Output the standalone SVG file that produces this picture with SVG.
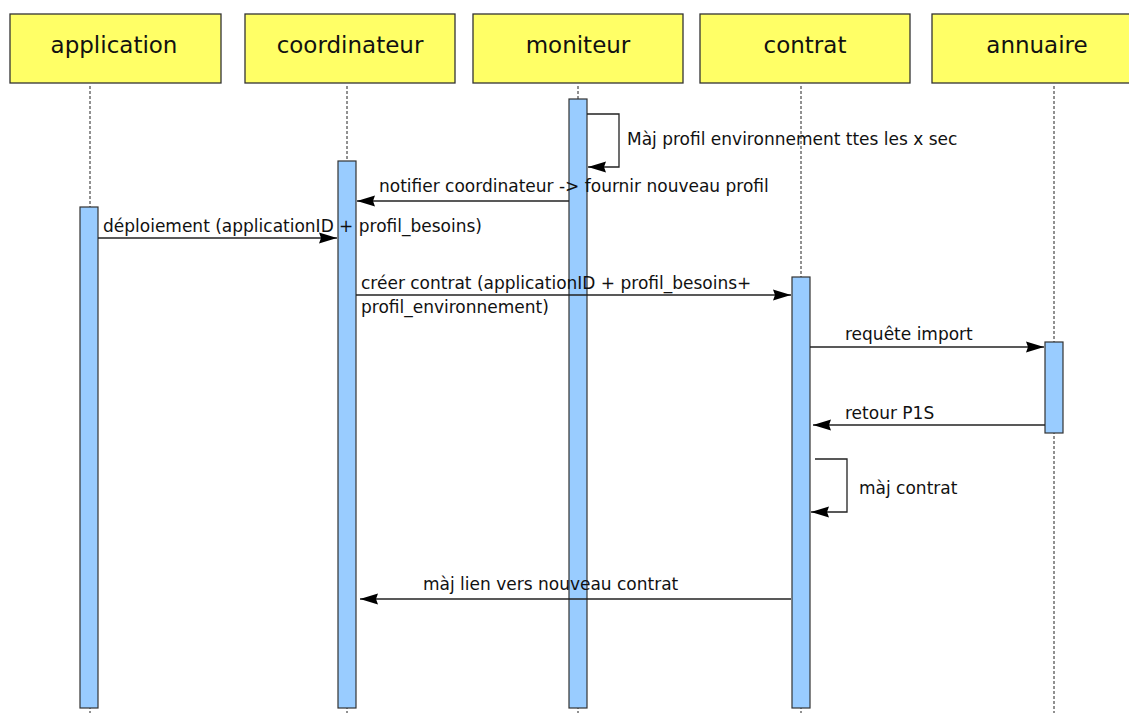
<svg xmlns="http://www.w3.org/2000/svg" width="1129" height="713" viewBox="0 0 1129 713">
<style>
.hdr{fill:#ffff66;stroke:#333;stroke-width:1.3}
.htxt{font-family:"DejaVu Sans",sans-serif;font-size:23px;fill:#111;text-anchor:middle}
.life{stroke:#222;stroke-width:1;stroke-dasharray:3 2;fill:none}
.bar{fill:#99ccff;stroke:#333;stroke-width:1.2}
.msg{stroke:#222;stroke-width:1.3;fill:none}
.mtxt{font-family:"DejaVu Sans",sans-serif;font-size:17px;fill:#111}
</style>
<defs>
<marker id="ah" markerUnits="userSpaceOnUse" markerWidth="20" markerHeight="12" refX="18" refY="6" orient="auto">
<path d="M0,0.5 L18,6 L0,11.5 L2,6 Z" fill="#000"/>
</marker>
</defs>
<g id="lifelines">
<line class="life" x1="90" y1="86" x2="90" y2="713"/>
<line class="life" x1="347" y1="86" x2="347" y2="713"/>
<line class="life" x1="578" y1="86" x2="578" y2="713"/>
<line class="life" x1="801" y1="86" x2="801" y2="713"/>
<line class="life" x1="1054" y1="86" x2="1054" y2="713"/>
</g>
<g id="application"><rect class="hdr" x="10" y="14" width="211" height="69"/><text class="htxt" x="114" y="53">application</text><rect class="bar" x="80" y="207" width="18" height="501"/></g>
<g id="coordinateur"><rect class="hdr" x="245" y="14" width="210" height="69"/><text class="htxt" x="350" y="53">coordinateur</text><rect class="bar" x="338" y="161" width="18" height="547"/></g>
<g id="moniteur"><rect class="hdr" x="473" y="14" width="210" height="69"/><text class="htxt" x="578" y="53">moniteur</text><rect class="bar" x="569" y="99" width="18" height="609"/></g>
<g id="contrat"><rect class="hdr" x="700" y="14" width="210" height="69"/><text class="htxt" x="805" y="53">contrat</text><rect class="bar" x="792" y="277" width="18" height="431"/></g>
<g id="annuaire"><rect class="hdr" x="932" y="14" width="210" height="69"/><text class="htxt" x="1037" y="53">annuaire</text><rect class="bar" x="1045" y="342" width="18" height="91"/></g>
<g id="connectors">
<path class="msg" d="M587,114 H619 V167 H588" marker-end="url(#ah)"/>
<text class="mtxt" x="627" y="145">Màj profil environnement ttes les x sec</text>
<line class="msg" x1="569" y1="201" x2="357" y2="201" marker-end="url(#ah)"/>
<text class="mtxt" x="379" y="192">notifier coordinateur -&gt; fournir nouveau profil</text>
<line class="msg" x1="98" y1="238" x2="337" y2="238" marker-end="url(#ah)"/>
<text class="mtxt" x="103" y="232">déploiement (applicationID + profil_besoins)</text>
<line class="msg" x1="356" y1="295" x2="791" y2="295" marker-end="url(#ah)"/>
<text class="mtxt" x="361" y="289">créer contrat (applicationID + profil_besoins+</text>
<text class="mtxt" x="361" y="313">profil_environnement)</text>
<line class="msg" x1="810" y1="347" x2="1044" y2="347" marker-end="url(#ah)"/>
<text class="mtxt" x="845" y="340">requête import</text>
<line class="msg" x1="1045" y1="425" x2="813" y2="425" marker-end="url(#ah)"/>
<text class="mtxt" x="845" y="419">retour P1S</text>
<path class="msg" d="M815,459 H847 V512 H811" marker-end="url(#ah)"/>
<text class="mtxt" x="859" y="494">màj contrat</text>
<line class="msg" x1="791" y1="599" x2="360" y2="599" marker-end="url(#ah)"/>
<text class="mtxt" x="423" y="590">màj lien vers nouveau contrat</text>
</g>
</svg>
